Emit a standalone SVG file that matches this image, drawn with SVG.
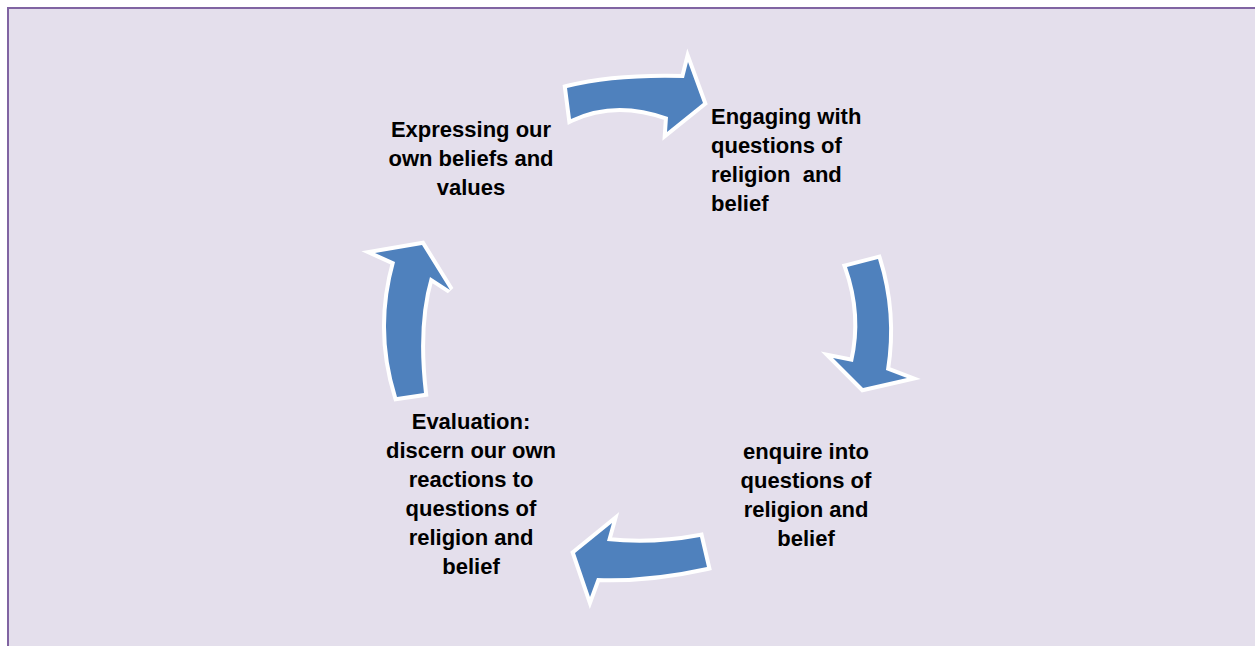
<svg xmlns="http://www.w3.org/2000/svg" width="1255" height="646" viewBox="0 0 1255 646">
<style>
.bg{fill:#E4DFEC;stroke:#8064A2;stroke-width:2}
.arrow{fill:#4F81BD;stroke:#FFFFFF;stroke-width:8;stroke-linejoin:miter;stroke-miterlimit:4;paint-order:stroke}
.lbl{font-family:"Liberation Sans",Arial,sans-serif;font-weight:bold;font-size:22px;fill:#000000;white-space:pre}
.c{text-anchor:middle}
</style>
<rect class="bg" x="8" y="8" width="1262" height="660"/>
<g id="connectors">
  <path id="arrow-top" class="arrow" d="M567,88 Q615,76 684,78 L688,62 L703,103 L667,132 L668,117 Q615,98 571,119 Z"/>
  <path id="arrow-right" class="arrow" d="M847,267 L878,259 Q895,313 886,370 L907,378 L863,388 L833,358 L853,362 Q864,315 847,267 Z"/>
  <path id="arrow-bottom" class="arrow" d="M700,537 Q652,546 607,541 L612,523 L575,553 L590,597 L597,578 Q648,580 707,567 Z"/>
  <path id="arrow-left" class="arrow" d="M397,397 Q376,330 395,262 L375,253 L422,245 L450,290 L430,277 Q416,325 424,393 Z"/>
</g>
<g id="node-expressing">
  <text class="lbl c" x="471" y="137">Expressing our</text>
  <text class="lbl c" x="471" y="166">own beliefs and</text>
  <text class="lbl c" x="471" y="195">values</text>
</g>
<g id="node-engaging">
  <text class="lbl" x="711" y="124">Engaging with</text>
  <text class="lbl" x="711" y="153">questions of</text>
  <text class="lbl" x="711" y="182">religion  and</text>
  <text class="lbl" x="711" y="211">belief</text>
</g>
<g id="node-enquire">
  <text class="lbl c" x="806" y="459">enquire into</text>
  <text class="lbl c" x="806" y="488">questions of</text>
  <text class="lbl c" x="806" y="517">religion and</text>
  <text class="lbl c" x="806" y="546">belief</text>
</g>
<g id="node-evaluation">
  <text class="lbl c" x="471" y="429">Evaluation:</text>
  <text class="lbl c" x="471" y="458">discern our own</text>
  <text class="lbl c" x="471" y="487">reactions to</text>
  <text class="lbl c" x="471" y="516">questions of</text>
  <text class="lbl c" x="471" y="545">religion and</text>
  <text class="lbl c" x="471" y="574">belief</text>
</g>
</svg>
